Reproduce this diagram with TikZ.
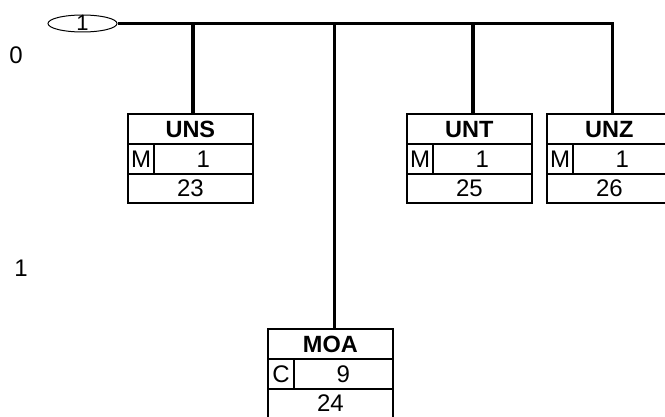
\documentclass[tikz,border=0pt]{standalone}
\usepackage{fontspec}
\setmainfont{Liberation Sans}
\usetikzlibrary{shapes.geometric}
\tikzset{
  cell/.style={draw, line width=2.2pt, inner sep=0pt, anchor=north west,
    font=\fontsize{24}{24}\selectfont},
  head/.style={cell, minimum width=124.5pt, minimum height=30pt,
    font=\fontsize{23.5}{23.5}\selectfont\bfseries},
  stat/.style={cell, minimum width=26pt, minimum height=30pt},
  rep/.style={cell, minimum width=98.5pt, minimum height=30pt},
  num/.style={cell, minimum width=124.5pt, minimum height=29pt},
  bus/.style={line width=3.3pt},
  lvl/.style={font=\fontsize{24}{24}\selectfont},
}
\begin{document}
\begin{tikzpicture}[x=1pt,y=-1pt]
\useasboundingbox (0,0) rectangle (665,417);
% group ellipse
\node[draw, ellipse, line width=1pt, minimum width=69pt, minimum height=17pt, inner sep=0pt] (grp) at (82.5,23.5) {};
\node[font=\fontsize{22}{22}\selectfont, inner sep=0pt] (grpT) at (82.5,22.5) {1};
% level labels
\node[lvl] (l0) at (16,55) {0};
\node[lvl] (l1) at (21,268) {1};
% UNS
\node[head] (uns) at (127,113) {UNS};
\node[stat] (unsS) at (127,143) {M};
\node[rep] (unsR) at (153,143) {1};
\node[num] (unsN) at (127,173) {23};
% UNT
\node[head] (unt) at (406,113) {UNT};
\node[stat] (untS) at (406,143) {M};
\node[rep] (untR) at (432,143) {1};
\node[num] (untN) at (406,173) {25};
% UNZ
\node[head] (unz) at (546,113) {UNZ};
\node[stat] (unzS) at (546,143) {M};
\node[rep] (unzR) at (572,143) {1};
\node[num] (unzN) at (546,173) {26};
% MOA
\node[head] (moa) at (267,328) {MOA};
\node[stat] (moaS) at (267,358) {C};
\node[rep] (moaR) at (293,358) {9};
\node[num] (moaN) at (267,388) {24};
% connectors
\coordinate (busEnd) at ([xshift=3pt]unz.north |- grp.east);
\draw[bus] (grp.east) -- ([xshift=1.6pt]busEnd);
\draw[bus] ([xshift=2.5pt]uns.north) -- ([xshift=2.5pt]uns.north |- grp.east);
\draw[bus] ([xshift=3.5pt]unt.north) -- ([xshift=3.5pt]unt.north |- grp.east);
\draw[bus] (busEnd) -- (busEnd |- unz.north);
\draw[bus] ([xshift=4pt]moa.north) -- ([xshift=4pt]moa.north |- grp.east);
\end{tikzpicture}
\end{document}
